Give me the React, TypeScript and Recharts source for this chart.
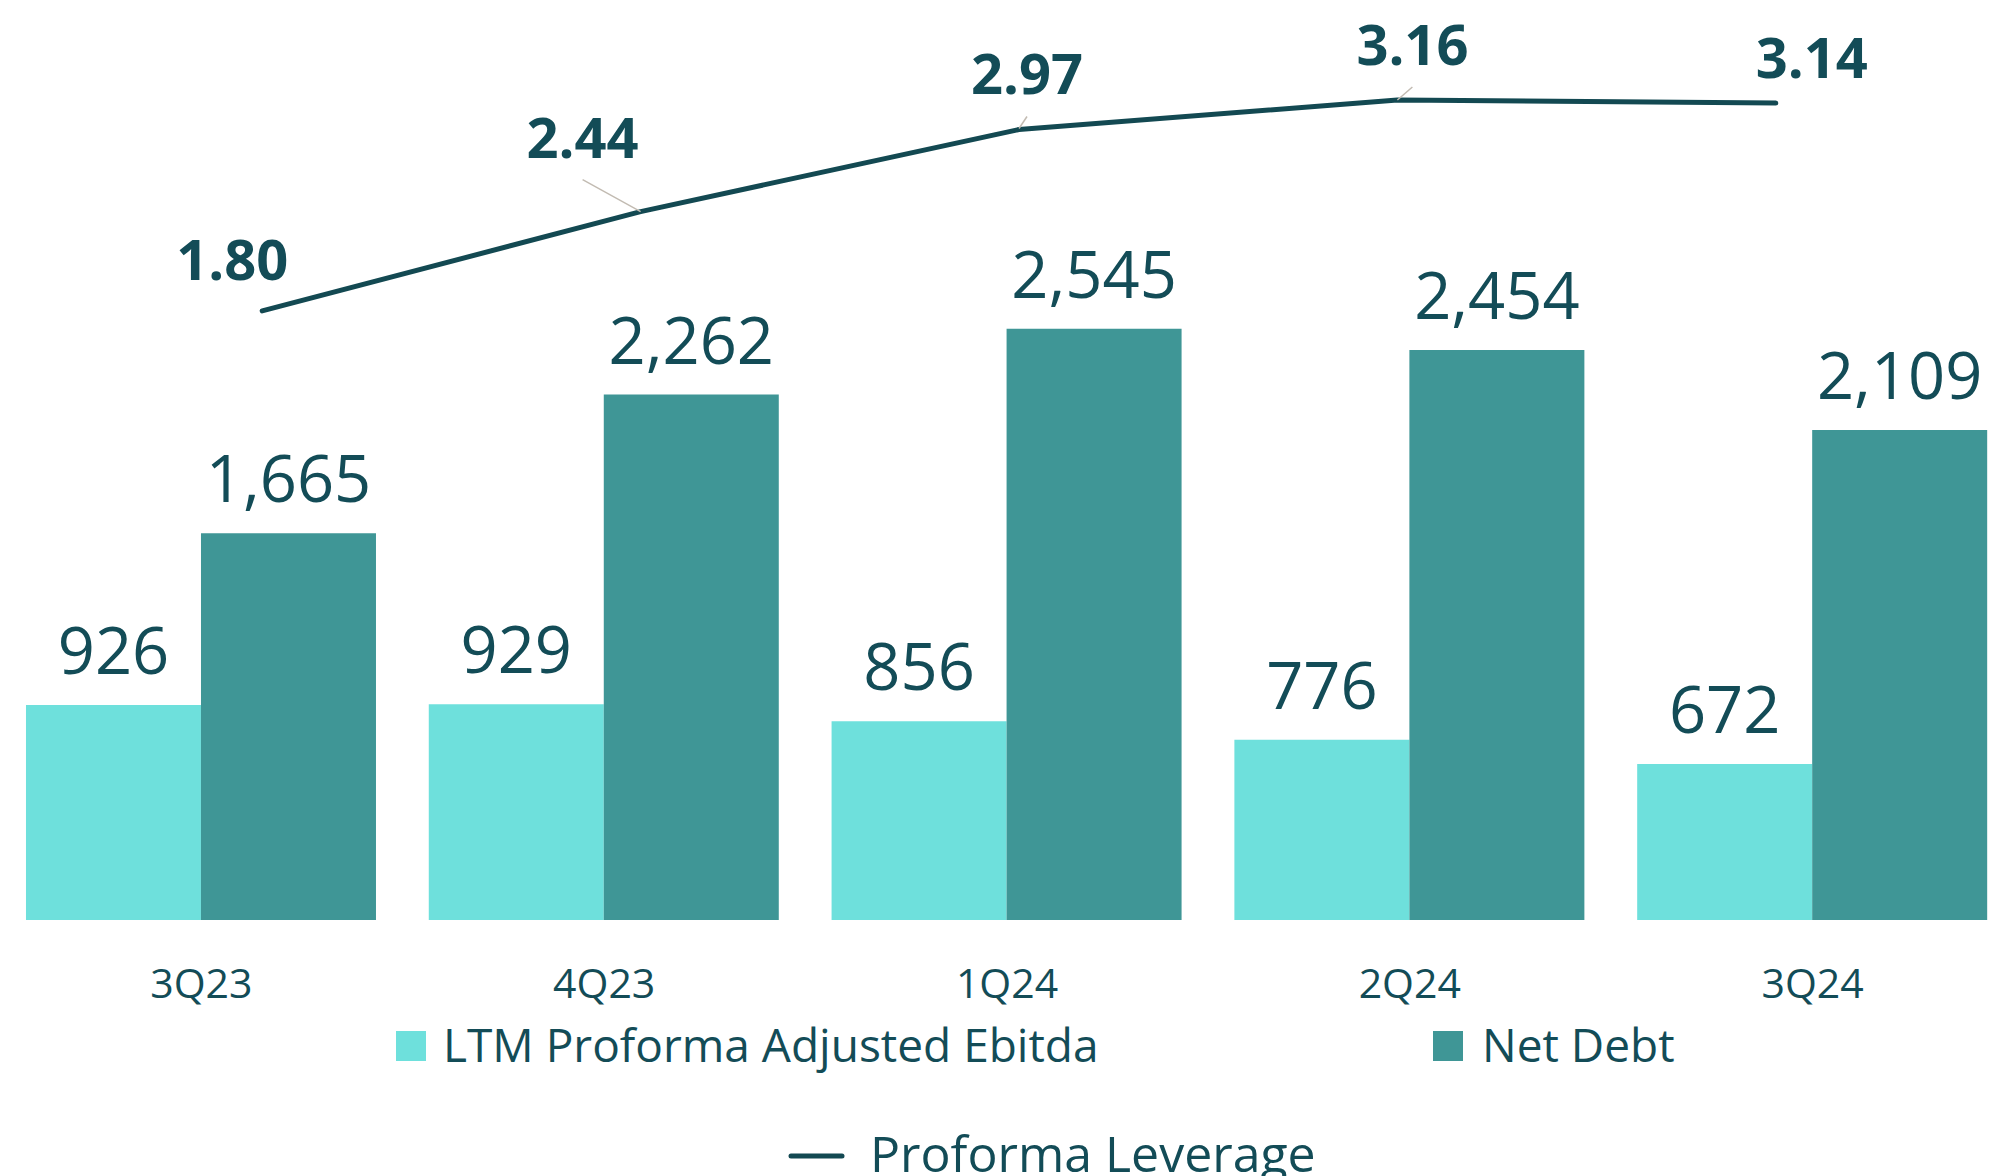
import { ComposedChart, Bar, Line, XAxis, YAxis, LabelList, Legend } from 'recharts'

const quarters = ['3Q23', '4Q23', '1Q24', '2Q24', '3Q24']
const ebitda = [926, 929, 856, 776, 672]
const netDebt = [1665, 2262, 2545, 2454, 2109]
const leverage = [1.8, 2.44, 2.97, 3.16, 3.14]

const seriesNames = {
  ebitda: 'LTM Proforma Adjusted Ebitda',
  netDebt: 'Net Debt',
  leverage: 'Proforma Leverage',
}

const LIGHT = '#6EE0DC'
const DARK = '#3F9696'
const TEXT = '#134C57'
const LINE = '#134952'
const LEADER = '#C2BBB2'
const FONT = '"Open Sans", sans-serif'

const W = 2014
const H = 1176

const data = quarters.map((q, i) => ({
  quarter: q,
  ebitda: ebitda[i],
  netDebt: netDebt[i],
  leverage: leverage[i],
}))

// label placement for the leverage line, relative to each point
const LEV_LABELS = [
  { dx: -30, dy: -31, leader: null },
  { dx: -58, dy: -54, leader: [-58, -32, 0, 0] },
  { dx: 8, dy: -35, leader: [8, -13, 0, -1] },
  { dx: 15, dy: -35, leader: [15, -13, 0, 0] },
  { dx: 36, dy: -25, leader: null },
]

function LeverageLabel(props: any) {
  const { x, y, value, index } = props
  const cfg = LEV_LABELS[index] || { dx: 0, dy: -20, leader: null }
  return (
    <g>
      {cfg.leader && (
        <line
          x1={x + cfg.leader[0]} y1={y + cfg.leader[1]}
          x2={x + cfg.leader[2]} y2={y + cfg.leader[3]}
          stroke={LEADER} strokeWidth={1.5}
        />
      )}
      <text
        x={x + cfg.dx} y={y + cfg.dy} textAnchor="middle"
        fill={TEXT} fontFamily={FONT} fontWeight={700} fontSize={56}
      >
        {Number(value).toFixed(2)}
      </text>
    </g>
  )
}

function QuarterTick(props: any) {
  const { x, y, payload } = props
  return (
    <text x={x} y={y + 78} textAnchor="middle" fill={TEXT} fontFamily={FONT} fontSize={41}>
      {payload.value}
    </text>
  )
}

function ChartLegend() {
  return (
    <svg width={1992} height={166} style={{ display: 'block' }}>
      <rect x={396} y={21} width={30} height={30} fill={LIGHT} />
      <text x={443} y={52} fill={TEXT} fontFamily={FONT} fontSize={46}>{seriesNames.ebitda}</text>
      <rect x={1433} y={21} width={30} height={30} fill={DARK} />
      <text x={1482} y={52} fill={TEXT} fontFamily={FONT} fontSize={46}>{seriesNames.netDebt}</text>
      <line x1={791} y1={146} x2={842} y2={146} stroke={LINE} strokeWidth={5} strokeLinecap="round" />
      <text x={870} y={162} fill={TEXT} fontFamily={FONT} fontSize={50}>{seriesNames.leverage}</text>
    </svg>
  )
}

export default function App() {
  return (
    <div style={{
      position: 'absolute', left: 0, top: 0, width: 1992, height: H,
      overflow: 'hidden', background: '#fff',
    }}>
      <ComposedChart
        width={W} height={H} data={data}
        margin={{ top: 40, right: 0, bottom: 0, left: 0 }}
        barCategoryGap="6.45%" barGap={0}
      >
        <XAxis
          xAxisId="bars" dataKey="quarter"
          axisLine={false} tickLine={false} tickSize={0} tickMargin={0}
          height={90} tick={<QuarterTick />} interval={0}
        />
        <XAxis xAxisId="line" dataKey="quarter" hide padding={{ left: 73, right: 49 }} />
        <YAxis yAxisId="left" hide domain={[0, 3788]} allowDataOverflow />
        <YAxis yAxisId="right" hide orientation="right" domain={[-2.128, 3.547]} allowDataOverflow />
        <Legend
          content={<ChartLegend />}
          verticalAlign="bottom"
          wrapperStyle={{ left: 0, top: 1010, bottom: 'auto', width: 1992, height: 166 }}
        />
        <Bar xAxisId="bars" yAxisId="left" dataKey="ebitda" name={seriesNames.ebitda} fill={LIGHT} isAnimationActive={false}>
          <LabelList
            dataKey="ebitda" position="top" offset={31}
            formatter={(v: any) => Number(v).toLocaleString('en-US')}
            fill={TEXT} fontFamily={FONT} fontSize={65}
          />
        </Bar>
        <Bar xAxisId="bars" yAxisId="left" dataKey="netDebt" name={seriesNames.netDebt} fill={DARK} isAnimationActive={false}>
          <LabelList
            dataKey="netDebt" position="top" offset={31}
            formatter={(v: any) => Number(v).toLocaleString('en-US')}
            fill={TEXT} fontFamily={FONT} fontSize={65}
          />
        </Bar>
        <Line
          xAxisId="line" yAxisId="right" dataKey="leverage" name={seriesNames.leverage}
          stroke={LINE} strokeWidth={5} strokeLinecap="round" strokeLinejoin="round"
          dot={false} activeDot={false} isAnimationActive={false} type="linear"
        >
          <LabelList dataKey="leverage" content={<LeverageLabel />} />
        </Line>
      </ComposedChart>
    </div>
  )
}
